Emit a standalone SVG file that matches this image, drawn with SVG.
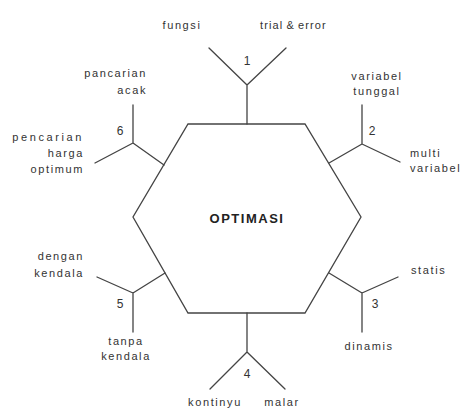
<svg xmlns="http://www.w3.org/2000/svg" width="464" height="409" viewBox="0 0 464 409">
<style>
.ln{stroke:#444;stroke-width:1.3;fill:none;stroke-linecap:round}
.t{font-family:"Liberation Sans",Arial,sans-serif;font-size:11px;fill:#333;letter-spacing:1.6px}
.n{font-family:"Liberation Sans",Arial,sans-serif;font-size:12px;fill:#333}
.m{font-family:"Liberation Sans",Arial,sans-serif;font-size:13px;font-weight:bold;fill:#222;letter-spacing:1.5px}
</style>
<rect width="464" height="409" fill="#fff"/>
<g id="hexagon">
<polygon class="ln" points="188,124 305,124 361,217 305,313 188,313 133,217"/>
<text class="m" x="247" y="223" text-anchor="middle">OPTIMASI</text>
</g>
<g id="connectors">
<path class="ln" d="M247,124V85M247,85L209,48M247,85L286,48"/>
<path class="ln" d="M329,163L362,144M362,144V105M362,144L400,162"/>
<path class="ln" d="M329,273L362,293M362,293V332M362,293L398,277"/>
<path class="ln" d="M247,313V352M247,352L210,389M247,352L285,389"/>
<path class="ln" d="M165,273L133,293M133,293V332M133,293L97,277"/>
<path class="ln" d="M164,165L133,143M133,143V105M133,143L95,163"/>
</g>
<g id="node1">
<text class="n" x="247" y="65" text-anchor="middle">1</text>
<text class="t" x="182" y="29" text-anchor="middle">fungsi</text>
<text class="t" x="260" y="29" style="letter-spacing:1.1px;word-spacing:-1px">trial &amp; error</text>
</g>
<g id="node2">
<text class="n" x="372" y="135" text-anchor="middle">2</text>
<text class="t" x="377" y="80" text-anchor="middle">variabel</text>
<text class="t" x="377" y="95" text-anchor="middle">tunggal</text>
<text class="t" x="410" y="157">multi</text>
<text class="t" x="410" y="172">variabel</text>
</g>
<g id="node3">
<text class="n" x="375" y="308" text-anchor="middle">3</text>
<text class="t" x="411" y="274">statis</text>
<text class="t" x="369" y="350" text-anchor="middle">dinamis</text>
</g>
<g id="node4">
<text class="n" x="247" y="378" text-anchor="middle">4</text>
<text class="t" x="215" y="406" text-anchor="middle">kontinyu</text>
<text class="t" x="282" y="406" text-anchor="middle">malar</text>
</g>
<g id="node5">
<text class="n" x="120" y="308" text-anchor="middle">5</text>
<text class="t" x="84" y="260" text-anchor="end">dengan</text>
<text class="t" x="84" y="277" text-anchor="end">kendala</text>
<text class="t" x="126" y="345" text-anchor="middle">tanpa</text>
<text class="t" x="126" y="360" text-anchor="middle">kendala</text>
</g>
<g id="node6">
<text class="n" x="120" y="135" text-anchor="middle">6</text>
<text class="t" x="147" y="77" text-anchor="end">pancarian</text>
<text class="t" x="147" y="94" text-anchor="end">acak</text>
<text class="t" x="84" y="141" text-anchor="end" style="letter-spacing:2.6px">pencarian</text>
<text class="t" x="84" y="157" text-anchor="end">harga</text>
<text class="t" x="84" y="173" text-anchor="end">optimum</text>
</g>
</svg>
